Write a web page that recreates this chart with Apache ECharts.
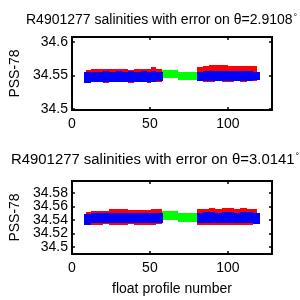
<!DOCTYPE html>
<html><head><meta charset="utf-8">
<script src="https://cdn.jsdelivr.net/npm/echarts@6/dist/echarts.min.js"></script>
<style>html,body{margin:0;padding:0;background:#fff}#c{width:300px;height:300px}</style>
</head><body><div id="c"></div>
<script>
// ---- data ----
const titles = ['R4901277 salinities with error on \u03b8=2.9108', 'R4901277 salinities with error on \u03b8=3.0141'];
const xTicks = [0, 50, 100];
const yTicksTop = [34.5, 34.55, 34.6];
const yTicksBot = [34.5, 34.52, 34.54, 34.56, 34.58];

// block edges in profile number
const redEdgesL  = [8.8, 12, 16, 20, 24, 28, 32, 36, 40, 44, 48, 51, 54, 57.8];
const blueEdgesL = [8.0, 12, 16, 20, 24, 28, 32, 36, 40, 44, 48, 51, 54, 58.2];
const redEdgesR  = [80.5, 84, 88, 92, 96, 100, 104, 108, 112, 116, 119];
const blueEdgesR = [80.2, 84, 88, 92, 96, 100, 104, 108, 112, 116, 120.3];
const greenEdges = [57.8, 68, 80.5];

// top panel (theta = 2.9108)
const t_redHighL  = [34.5585, 34.5592, 34.5595, 34.5588, 34.5595, 34.5592, 34.5595, 34.5585, 34.5595, 34.5588, 34.5600, 34.5625, 34.5595];
const t_redLowL   = [34.5400, 34.5395, 34.5400, 34.5392, 34.5400, 34.5395, 34.5400, 34.5392, 34.5400, 34.5395, 34.5392, 34.5395, 34.5400];
const t_blueHighL = [34.5545, 34.5555, 34.5555, 34.5558, 34.5555, 34.5558, 34.5555, 34.5558, 34.5555, 34.5558, 34.5555, 34.5558, 34.5552];
const t_blueLowL  = [34.5390, 34.5405, 34.5407, 34.5405, 34.5407, 34.5405, 34.5407, 34.5405, 34.5407, 34.5405, 34.5407, 34.5405, 34.5410];
const t_redHighR  = [34.5630, 34.5638, 34.5650, 34.5660, 34.5648, 34.5640, 34.5645, 34.5635, 34.5642, 34.5640];
const t_redLowR   = [34.5410, 34.5405, 34.5400, 34.5410, 34.5405, 34.5400, 34.5410, 34.5405, 34.5410, 34.5412];
const t_blueHighR = [34.5555, 34.5560, 34.5562, 34.5558, 34.5560, 34.5562, 34.5558, 34.5560, 34.5562, 34.5556];
const t_blueLowR  = [34.5418, 34.5420, 34.5422, 34.5418, 34.5420, 34.5422, 34.5418, 34.5420, 34.5422, 34.5425];
const t_greenHigh = [34.5585, 34.5555];
const t_greenLow  = [34.5458, 34.5432];

// bottom panel (theta = 3.0141)
const b_redHighL  = [34.5524, 34.5534, 34.5534, 34.5534, 34.5555, 34.5559, 34.5555, 34.5552, 34.5548, 34.5550, 34.5552, 34.5562, 34.5560];
const b_redLowL   = [34.5335, 34.5330, 34.5328, 34.5332, 34.5325, 34.5330, 34.5328, 34.5332, 34.5330, 34.5325, 34.5328, 34.5330, 34.5335];
const b_blueHighL = [34.5490, 34.5500, 34.5504, 34.5507, 34.5504, 34.5507, 34.5504, 34.5507, 34.5504, 34.5507, 34.5504, 34.5507, 34.5500];
const b_blueLowL  = [34.5330, 34.5348, 34.5351, 34.5348, 34.5351, 34.5348, 34.5351, 34.5348, 34.5351, 34.5348, 34.5351, 34.5348, 34.5352];
const b_redHighR  = [34.5560, 34.5568, 34.5572, 34.5565, 34.5575, 34.5570, 34.5565, 34.5572, 34.5568, 34.5562];
const b_redLowR   = [34.5330, 34.5325, 34.5330, 34.5328, 34.5322, 34.5330, 34.5328, 34.5325, 34.5330, 34.5332];
const b_blueHighR = [34.5505, 34.5510, 34.5512, 34.5508, 34.5512, 34.5510, 34.5508, 34.5512, 34.5510, 34.5506];
const b_blueLowR  = [34.5348, 34.5351, 34.5350, 34.5352, 34.5351, 34.5349, 34.5352, 34.5351, 34.5350, 34.5345];
const b_greenHigh = [34.5534, 34.5500];
const b_greenLow  = [34.5400, 34.5375];

// ---- build ----
function blocks(edges, lows, highs) {
  const out = [];
  for (let i = 0; i < lows.length; i++) out.push([edges[i], edges[i + 1], lows[i], highs[i]]);
  return out;
}
function rectSeries(xi, yi, data, color, z) {
  return {
    type: 'custom', xAxisIndex: xi, yAxisIndex: yi, z: z, silent: true,
    encode: { x: [0, 1], y: [2, 3] },
    data: data,
    renderItem: function (params, api) {
      const p0 = api.coord([api.value(0), api.value(3)]);
      const p1 = api.coord([api.value(1), api.value(2)]);
      const x0 = Math.round(p0[0]), x1 = Math.round(p1[0]);
      const y0 = Math.round(p0[1]), y1 = Math.round(p1[1]);
      return { type: 'rect', shape: { x: x0, y: y0, width: x1 - x0, height: y1 - y0 }, style: { fill: color } };
    }
  };
}
const FONT = 'Liberation Sans';
const grids = [
  { left: 68, right: 28, top: 37, height: 73 },
  { left: 68, right: 28, top: 181, height: 73 }
];
const yRanges = [[34.4985, 34.607], [34.4891, 34.5979]];
const yTicks = [yTicksTop, yTicksBot];
// label sets split so that no axis carries labels closer than the overlap check allows
const yLabelSets = [[yTicksTop], [[34.5, 34.54, 34.58], [34.52, 34.56]]];
const xAxes = [], yAxes = [];
const lineStyle = { color: '#000', width: 2 };
const tickStyle = { color: '#000', width: 1.5 };
const labelBase = { color: '#000', fontFamily: FONT, fontSize: 14, margin: 4 };
const mainY = [];
for (let i = 0; i < 2; i++) {
  xAxes.push({ gridIndex: i, type: 'value', min: 0, max: 128.3, position: 'bottom',
    axisLine: { show: true, onZero: false, lineStyle: lineStyle }, splitLine: { show: false },
    axisTick: { inside: true, length: 3, customValues: xTicks, lineStyle: tickStyle },
    axisLabel: { customValues: xTicks, color: '#000', fontFamily: FONT, fontSize: 14, margin: 7 },
    name: i === 1 ? 'float profile number' : '', nameLocation: 'middle', nameGap: 28,
    nameTextStyle: { color: '#000', fontFamily: FONT, fontSize: 14 } });
  xAxes.push({ gridIndex: i, type: 'value', min: 0, max: 128.3, position: 'top',
    axisLine: { show: true, onZero: false, lineStyle: lineStyle }, splitLine: { show: false },
    axisTick: { inside: true, length: 3, customValues: xTicks, lineStyle: tickStyle },
    axisLabel: { show: false } });
  mainY.push(yAxes.length);
  yAxes.push({ gridIndex: i, type: 'value', min: yRanges[i][0], max: yRanges[i][1], position: 'left',
    axisLine: { show: true, onZero: false, lineStyle: lineStyle }, splitLine: { show: false },
    axisTick: { inside: true, length: 3, customValues: yTicks[i], lineStyle: tickStyle },
    axisLabel: Object.assign({ customValues: yLabelSets[i][0] }, labelBase),
    name: 'PSS-78', nameLocation: 'middle', nameGap: 48,
    nameTextStyle: { color: '#000', fontFamily: FONT, fontSize: 14 } });
  yAxes.push({ gridIndex: i, type: 'value', min: yRanges[i][0], max: yRanges[i][1], position: 'right',
    axisLine: { show: true, onZero: false, lineStyle: lineStyle }, splitLine: { show: false },
    axisTick: { inside: true, length: 3, customValues: yTicks[i], lineStyle: tickStyle },
    axisLabel: { show: false } });
  for (let k = 1; k < yLabelSets[i].length; k++) {
    yAxes.push({ gridIndex: i, type: 'value', min: yRanges[i][0], max: yRanges[i][1], position: 'left', offset: 0,
      axisLine: { show: false }, axisTick: { show: false }, splitLine: { show: false },
      axisLabel: Object.assign({ customValues: yLabelSets[i][k] }, labelBase) });
  }
}
const panels = [
  { rl: [t_redLowL, t_redHighL], bl: [t_blueLowL, t_blueHighL], rr: [t_redLowR, t_redHighR], br: [t_blueLowR, t_blueHighR], g: [t_greenLow, t_greenHigh] },
  { rl: [b_redLowL, b_redHighL], bl: [b_blueLowL, b_blueHighL], rr: [b_redLowR, b_redHighR], br: [b_blueLowR, b_blueHighR], g: [b_greenLow, b_greenHigh] }
];
const series = [];
panels.forEach(function (p, i) {
  const xi = i * 2, yi = mainY[i];
  series.push(rectSeries(xi, yi, blocks(greenEdges, p.g[0], p.g[1]), '#00ff00', 1));
  series.push(rectSeries(xi, yi, blocks(redEdgesL, p.rl[0], p.rl[1]).concat(blocks(redEdgesR, p.rr[0], p.rr[1])), '#ff0000', 2));
  series.push(rectSeries(xi, yi, blocks(blueEdgesL, p.bl[0], p.bl[1]).concat(blocks(blueEdgesR, p.br[0], p.br[1])), '#0000ff', 3));
});
function titleRich(fs) {
  return { m: { fontFamily: FONT, fontSize: fs, color: '#000' }, d: { fontFamily: FONT, fontSize: 9, color: '#000', verticalAlign: 'top', padding: [0, 0, 0, 1] } };
}
const chart = echarts.init(document.getElementById('c'), null, { renderer: 'canvas' });
chart.setOption({
  animation: false,
  backgroundColor: '#fff',
  grid: grids, xAxis: xAxes, yAxis: yAxes, series: series,
  graphic: [
    { type: 'text', left: 26, top: 13, style: { text: '{m|' + titles[0] + '}{d|\u00b0}', rich: titleRich(14) } },
    { type: 'text', left: 11, top: 152, style: { text: '{m|' + titles[1] + '}{d|\u00b0}', rich: titleRich(14.9) } }
  ]
});
</script></body></html>
